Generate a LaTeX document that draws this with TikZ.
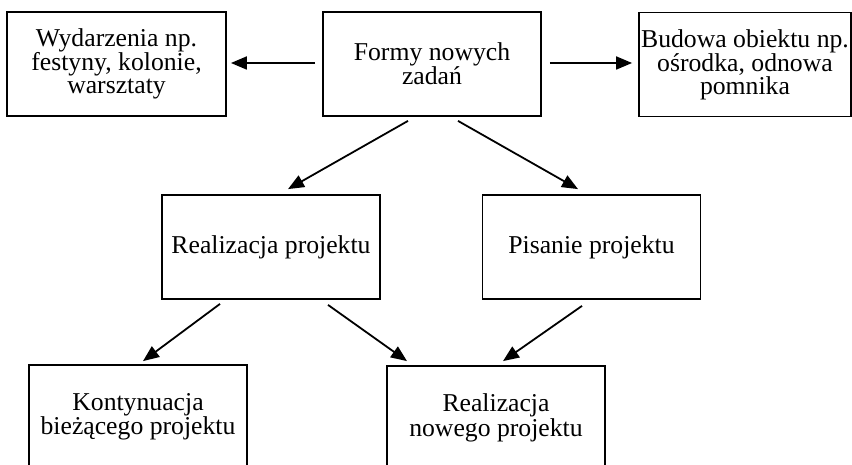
\documentclass[tikz,border=0pt]{standalone}
\usepackage{fontspec}
\setmainfont{Liberation Serif}
\usetikzlibrary{arrows.meta,calc}

\tikzset{
  box/.style={draw, line width=1.8pt, minimum width=218pt, minimum height=104pt,
    inner sep=0pt, align=center,
    font=\fontsize{25.7pt}{23pt}\selectfont},
  link/.style={line width=1.8pt, -{Triangle[length=16pt,width=13pt]}}
}

\begin{document}
\begin{tikzpicture}[x=1pt,y=-1pt]
  \clip (0,0) rectangle (852,465);
  \fill[white] (0,0) rectangle (852,465);

  % top row
  \node[box, minimum width=219pt] (events) at (116.5,64) {Wydarzenia np.\\festyny, kolonie,\\warsztaty};
  \node[box] (forms) at (432,64) {Formy nowych\\zadań};
  \node[box, minimum width=212pt] (build) at (745,64.5) {Budowa obiektu np.\\ośrodka, odnowa\\pomnika};

  % middle row
  \node[box] (realize) at (271,247) {Realizacja projektu};
  \node[box] (write) at (591.5,247) {Pisanie projektu};

  % bottom row (boxes run past the lower edge)
  \node[box] (cont) at (138,417) {\raisebox{3pt}{\parbox{218pt}{\centering Kontynuacja\\bieżącego projektu}}};
  \node[box] (newp) at (496,418) {\raisebox{-3pt}{\parbox{218pt}{\centering Realizacja\\nowego projektu}}};

  % connectors
  \draw[link] ($(forms.west)+(-7,-1)$) -- ($(events.east)+(4,-1)$);
  \draw[link] ($(forms.east)+(8,-1)$) -- ($(build.west)+(-6,-1.5)$);
  \draw[link] ($(forms.south)+(-24,4)$) -- ($(realize.north)+(17,-5)$);
  \draw[link] ($(forms.south)+(26,4)$) -- ($(write.north)+(-13.5,-5)$);
  \draw[link] ($(realize.south)+(-51,4)$) -- ($(cont.north)+(5,-3)$);
  \draw[link] ($(realize.south)+(57,5)$) -- ($(newp.north)+(-89,-4)$);
  \draw[link] ($(write.south)+(-9.5,6)$) -- ($(newp.north)+(7,-4)$);
\end{tikzpicture}
\end{document}
